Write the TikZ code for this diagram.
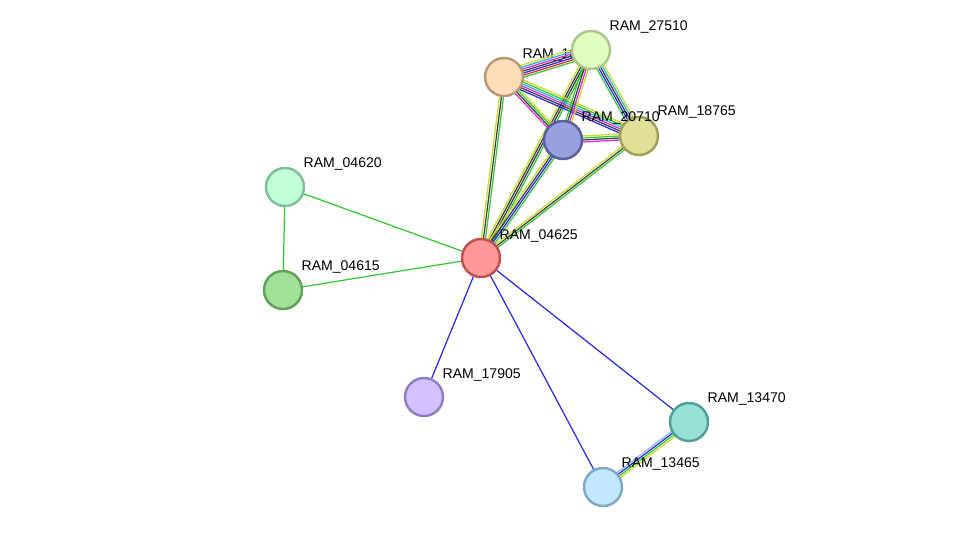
\documentclass[tikz,border=0pt]{standalone}
\usepackage{fontspec}
\setmainfont{Liberation Sans}
\usetikzlibrary{calc,backgrounds}
\definecolor{strgreen}{RGB}{50,200,50}
\definecolor{strblue}{RGB}{40,40,240}
\definecolor{strblack}{RGB}{60,60,60}
\definecolor{stryellow}{RGB}{200,220,40}
\definecolor{strmagenta}{RGB}{220,40,220}
\definecolor{strcyan}{RGB}{40,180,230}
\definecolor{strred}{RGB}{240,40,40}
\definecolor{strlblue}{RGB}{150,180,240}

% parallel coloured lines between two nodes
\newcommand\netedge[4]{%
  \foreach \c [count=\k] in {#4} {
    \pgfmathsetmacro\off{(\k-(#3+1)/2)*1.15}
    \draw[\c] ($(#1.center)!\off pt!90:(#2.center)$) -- ($(#2.center)!\off pt!-90:(#1.center)$);
  }}

\begin{document}
\begin{tikzpicture}[x=0.02cm,y=-0.02cm]
    % Define styles
    \tikzset{
      protein/.style={circle, minimum size=36\pgflinewidth, inner sep=0pt, line width=1.4pt},
      plabel/.style={anchor=south west, font=\fontsize{8}{9}\selectfont, inner sep=0pt},
      every path/.append style={line width=0.7pt}
    }
    \useasboundingbox (0,0) rectangle (976,533);

    % Proteins
    \node [protein, minimum size=0.76cm, draw={rgb,255:red,192;green,80;blue,80}, fill={rgb,255:red,255;green,153;blue,153}] (r04625) at (481,258) {};
    \node [protein, minimum size=0.76cm, draw={rgb,255:red,184;green,152;blue,120}, fill={rgb,255:red,255;green,221;blue,187}] (r18770) at (504,77) {};
    \node [protein, minimum size=0.76cm, draw={rgb,255:red,168;green,200;blue,136}, fill={rgb,255:red,224;green,255;blue,192}] (r27510) at (591,50) {};
    \node [protein, minimum size=0.76cm, draw={rgb,255:red,88;green,96;blue,160}, fill={rgb,255:red,152;green,160;blue,224}] (r20710) at (563,140) {};
    \node [protein, minimum size=0.76cm, draw={rgb,255:red,160;green,160;blue,88}, fill={rgb,255:red,224;green,224;blue,152}] (r18765) at (639,136) {};
    \node [protein, minimum size=0.76cm, draw={rgb,255:red,128;green,192;blue,152}, fill={rgb,255:red,192;green,255;blue,216}] (r04620) at (285,187) {};
    \node [protein, minimum size=0.76cm, draw={rgb,255:red,96;green,160;blue,88}, fill={rgb,255:red,160;green,224;blue,152}] (r04615) at (283,290) {};
    \node [protein, minimum size=0.76cm, draw={rgb,255:red,144;green,128;blue,192}, fill={rgb,255:red,212;green,192;blue,255}] (r17905) at (424,397) {};
    \node [protein, minimum size=0.76cm, draw={rgb,255:red,80;green,160;blue,152}, fill={rgb,255:red,152;green,224;blue,216}] (r13470) at (689,422) {};
    \node [protein, minimum size=0.76cm, draw={rgb,255:red,128;green,168;blue,192}, fill={rgb,255:red,192;green,232;blue,255}] (r13465) at (603,487) {};

    % Labels
    \begin{scope}[on background layer]
    \node [plabel] (l18770) at (522,62) {RAM\_18770};
    \end{scope}
    \node [plabel] (l04625) at (499,243) {RAM\_04625};
    \node [plabel] (l27510) at (609,34) {RAM\_27510};
    \node [plabel] (l20710) at (581,125) {RAM\_20710};
    \node [plabel] (l18765) at (657,119) {RAM\_18765};
    \node [plabel] (l04620) at (303,171) {RAM\_04620};
    \node [plabel] (l04615) at (301,274) {RAM\_04615};
    \node [plabel] (l17905) at (442,382) {RAM\_17905};
    \node [plabel] (l13470) at (707,406) {RAM\_13470};
    \node [plabel] (l13465) at (621,471) {RAM\_13465};

    % Interactions
    \begin{scope}[on background layer]
    \netedge{r04625}{r18770}{3}{strgreen,strblack,stryellow}
    \netedge{r04625}{r27510}{4}{strgreen,strblack,strblack,stryellow}
    \netedge{r04625}{r20710}{4}{strgreen,strblue,strblack,stryellow}
    \netedge{r04625}{r18765}{3}{strgreen,strblack,stryellow}
    \netedge{r18770}{r27510}{7}{strgreen,strred,strblue,strblack,strmagenta,strcyan,stryellow}
    \netedge{r18770}{r20710}{4}{strmagenta,strblack,strgreen,stryellow}
    \netedge{r18770}{r18765}{6}{strblue,strblack,strmagenta,strcyan,strgreen,stryellow}
    \netedge{r27510}{r20710}{4}{strgreen,strblack,strmagenta,stryellow}
    \netedge{r27510}{r18765}{5}{strgreen,strblue,strblack,strcyan,stryellow}
    \netedge{r20710}{r18765}{4}{strmagenta,strblack,strgreen,stryellow}
    \netedge{r13470}{r13465}{4}{strlblue,strblue,strgreen,stryellow}
    \draw [strgreen] (r04625) -- (r04620);
    \draw [strgreen] (r04625) -- (r04615);
    \draw [strgreen] (r04620) -- (r04615);
    \draw [strblue] (r04625) -- (r17905);
    \draw [strblue] (r04625) -- (r13470);
    \draw [strblue] (r04625) -- (r13465);
    \end{scope}
\end{tikzpicture}
\end{document}
